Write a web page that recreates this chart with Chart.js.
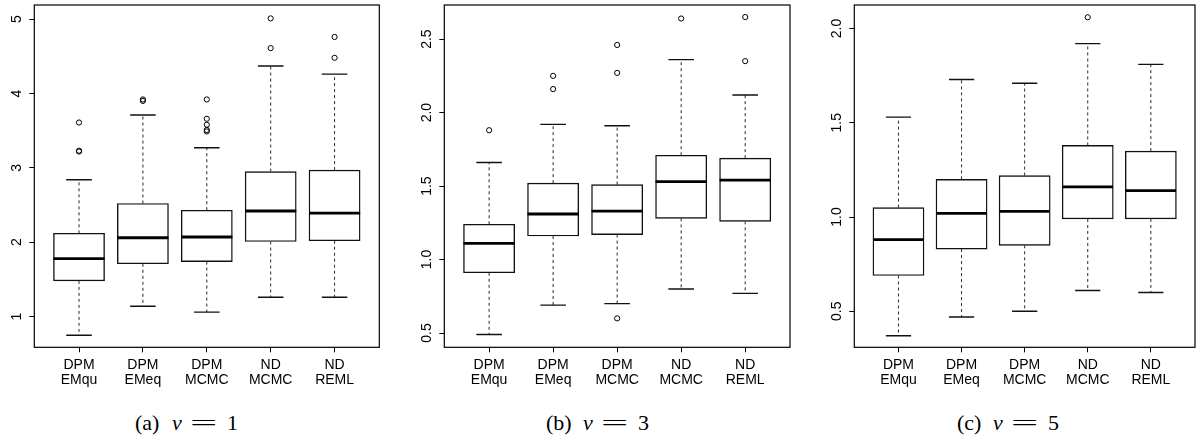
<!DOCTYPE html>
<html><head><meta charset="utf-8">
<script src="https://cdn.jsdelivr.net/npm/chart.js@4/dist/chart.umd.min.js"></script>
<style>
html,body{margin:0;padding:0;background:#fff;width:1200px;height:445px;overflow:hidden;position:relative}
canvas{position:absolute;top:0}
.cap{position:absolute;top:412px;height:22px;line-height:22px;font-family:"Liberation Serif","Times New Roman",serif;font-size:22px;color:#000;white-space:nowrap}
.cap span{position:absolute;top:0}
.cap .eq{display:inline-block;transform:scaleX(2.2);transform-origin:left center}
</style></head><body>
<canvas id="ca" width="400" height="400" style="left:0px"></canvas>
<canvas id="cb" width="400" height="400" style="left:410px"></canvas>
<canvas id="cc" width="380" height="400" style="left:820px"></canvas>
<div class="cap" style="left:135px"><span style="left:0">(a)</span><span style="left:37px;font-style:italic">ν</span><span class="eq" style="left:55px">=</span><span style="left:92px">1</span></div>
<div class="cap" style="left:546px"><span style="left:0">(b)</span><span style="left:37px;font-style:italic">ν</span><span class="eq" style="left:55px">=</span><span style="left:92px">3</span></div>
<div class="cap" style="left:957px"><span style="left:0">(c)</span><span style="left:36px;font-style:italic">ν</span><span class="eq" style="left:54px">=</span><span style="left:91px">5</span></div>
<script>
// ---- data ----
const categories = [["DPM","EMqu"],["DPM","EMeq"],["DPM","MCMC"],["ND","MCMC"],["ND","REML"]];

// panel (a) nu = 1
const aLow  = [0.75, 1.14, 1.06, 1.26, 1.26];
const aQ1   = [1.48, 1.71, 1.74, 2.01, 2.02];
const aMed  = [1.78, 2.06, 2.07, 2.42, 2.39];
const aQ3   = [2.12, 2.52, 2.43, 2.95, 2.97];
const aHigh = [2.84, 3.71, 3.27, 4.37, 4.26];
const aOut  = [[3.61, 3.23, 3.22], [3.92, 3.90], [3.92, 3.66, 3.58, 3.51, 3.49], [5.01, 4.61], [4.76, 4.48]];
const aTicks = [1, 2, 3, 4, 5];
const aTickLabels = ["1", "2", "3", "4", "5"];
const aRange = [0.587, 5.19];

// panel (b) nu = 3
const bLow  = [0.49, 0.69, 0.70, 0.80, 0.77];
const bQ1   = [0.91, 1.16, 1.17, 1.28, 1.26];
const bMed  = [1.11, 1.31, 1.33, 1.53, 1.54];
const bQ3   = [1.24, 1.52, 1.51, 1.71, 1.69];
const bHigh = [1.66, 1.92, 1.91, 2.36, 2.12];
const bOut  = [[1.88], [2.25, 2.16], [2.46, 2.27, 0.60], [2.64], [2.65, 2.35]];
const bTicks = [0.5, 1.0, 1.5, 2.0, 2.5];
const bTickLabels = ["0.5", "1.0", "1.5", "2.0", "2.5"];
const bRange = [0.403, 2.732];

// panel (c) nu = 5
const cLow  = [0.37, 0.47, 0.50, 0.61, 0.60];
const cQ1   = [0.69, 0.83, 0.85, 0.99, 0.99];
const cMed  = [0.88, 1.02, 1.03, 1.16, 1.14];
const cQ3   = [1.05, 1.20, 1.22, 1.38, 1.35];
const cHigh = [1.53, 1.73, 1.71, 1.92, 1.81];
const cOut  = [[], [], [], [2.06], []];
const cTicks = [0.5, 1.0, 1.5, 2.0];
const cTickLabels = ["0.5", "1.0", "1.5", "2.0"];
const cRange = [0.309, 2.125];

// ---- drawing ----
const boxPlugin = {
  id: 'boxExtras',
  afterDatasetsDraw(chart, args, o) {
    const ctx = chart.ctx, xs = chart.scales.x, ys = chart.scales.y, ca = chart.chartArea;
    ctx.save();
    ctx.beginPath(); ctx.rect(ca.left, ca.top, ca.right - ca.left, ca.bottom - ca.top); ctx.clip();
    for (let i = 0; i < o.low.length; i++) {
      const x = xs.getPixelForValue(i + 1);
      const hb = xs.getPixelForValue(i + 1.4) - x;
      const hc = xs.getPixelForValue(i + 1.2) - x;
      const yl = ys.getPixelForValue(o.low[i]), y1 = ys.getPixelForValue(o.q1[i]);
      const y3 = ys.getPixelForValue(o.q3[i]), yh = ys.getPixelForValue(o.high[i]);
      const ym = ys.getPixelForValue(o.med[i]);
      ctx.strokeStyle = '#2a2a2a'; ctx.lineWidth = 1; ctx.setLineDash([3, 3]);
      ctx.beginPath();
      ctx.moveTo(x, y3); ctx.lineTo(x, yh);
      ctx.moveTo(x, y1); ctx.lineTo(x, yl);
      ctx.stroke();
      ctx.setLineDash([]);
      ctx.strokeStyle = '#111'; ctx.lineWidth = 1.4;
      ctx.beginPath();
      ctx.moveTo(x - hc, yh); ctx.lineTo(x + hc, yh);
      ctx.moveTo(x - hc, yl); ctx.lineTo(x + hc, yl);
      ctx.stroke();
      ctx.strokeStyle = '#000'; ctx.lineWidth = 2.8;
      ctx.beginPath(); ctx.moveTo(x - hb, ym); ctx.lineTo(x + hb, ym); ctx.stroke();
    }
    ctx.restore();
    ctx.save();
    ctx.strokeStyle = '#000'; ctx.lineWidth = 1.2;
    ctx.strokeRect(ca.left, ca.top, ca.right - ca.left, ca.bottom - ca.top);
    ctx.fillStyle = '#000';
    ctx.font = '14px "Liberation Sans", Arial, sans-serif';
    ctx.textAlign = 'center'; ctx.textBaseline = 'middle';
    ys.ticks.forEach((t, k) => {
      const y = ys.getPixelForValue(t.value);
      ctx.save();
      ctx.translate(ca.left - 17, y);
      ctx.rotate(-Math.PI / 2);
      ctx.fillText(o.yLabels[k], 0, 0);
      ctx.restore();
    });
    ctx.restore();
  }
};

function makeChart(id, low, q1, med, q3, high, outs, ticks, tickLabels, range, plotLeft, padRight) {
  const plotW = document.getElementById(id).width - plotLeft - padRight;
  const outData = [];
  outs.forEach((arr, i) => arr.forEach(v => outData.push({x: i + 1, y: v})));
  new Chart(document.getElementById(id), {
    type: 'bar',
    data: {
      datasets: [
        {
          type: 'bar',
          data: q1.map((v, i) => ({x: i + 1, y: [v, q3[i]]})),
          backgroundColor: '#fff',
          borderColor: '#111',
          borderWidth: 1.4,
          borderSkipped: false,
          barThickness: 0.8 * plotW / 5.4
        },
        {
          type: 'scatter',
          data: outData,
          showLine: false,
          pointStyle: 'circle',
          pointRadius: 2.6,
          pointBackgroundColor: 'rgba(0,0,0,0)',
          pointBorderColor: '#000',
          pointBorderWidth: 1
        }
      ]
    },
    options: {
      responsive: false,
      animation: false,
      events: [],
      layout: {padding: {left: 0, right: padRight, top: 2.5, bottom: 0}},
      plugins: {
        legend: {display: false},
        tooltip: {enabled: false},
        boxExtras: {low, q1, med, q3, high, yLabels: tickLabels}
      },
      scales: {
        x: {
          type: 'linear',
          min: 0.3, max: 5.7,
          offset: false,
          afterBuildTicks: s => { s.ticks = [1, 2, 3, 4, 5].map(v => ({value: v})); },
          afterFit: s => { s.height = 52.7; },
          ticks: {
            autoSkip: false, maxRotation: 0, minRotation: 0, padding: 5,
            color: '#000',
            font: {family: '"Liberation Sans", Arial, sans-serif', size: 14, lineHeight: 15 / 14},
            callback: v => categories[Math.round(v) - 1]
          },
          grid: {display: true, offset: false, drawOnChartArea: false, drawTicks: true, tickLength: 5, color: '#000', lineWidth: 1},
          border: {display: false}
        },
        y: {
          type: 'linear',
          min: range[0], max: range[1],
          afterBuildTicks: s => { s.ticks = ticks.map(v => ({value: v})); },
          afterFit: s => { s.width = plotLeft; },
          ticks: {display: false},
          grid: {display: true, drawOnChartArea: false, drawTicks: true, tickLength: 5, color: '#000', lineWidth: 1},
          border: {display: false}
        }
      }
    },
    plugins: [boxPlugin]
  });
}

makeChart('ca', aLow, aQ1, aMed, aQ3, aHigh, aOut, aTicks, aTickLabels, aRange, 34.3, 20.7);
makeChart('cb', bLow, bQ1, bMed, bQ3, bHigh, bOut, bTicks, bTickLabels, bRange, 34.3, 20);
makeChart('cc', cLow, cQ1, cMed, cQ3, cHigh, cOut, cTicks, cTickLabels, cRange, 34.3, 0.7);
</script>
</body></html>
